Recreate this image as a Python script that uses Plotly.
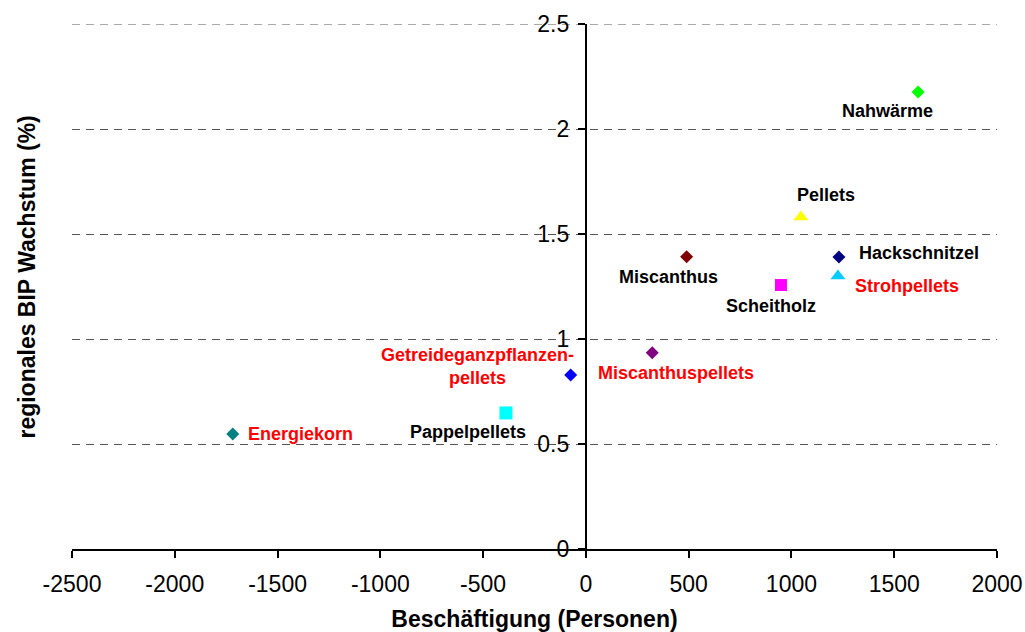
import plotly.graph_objects as go

# ---- data ----
names = ["Energiekorn", "Pappelpellets", "Getreideganzpflanzen-<br>pellets", "Miscanthuspellets",
         "Miscanthus", "Scheitholz", "Pellets", "Hackschnitzel", "Strohpellets", "Nahwärme"]
employment = [-1718, -389, -74, 323, 490, 949, 1046, 1231, 1226, 1616]
gdp_growth = [0.548, 0.648, 0.829, 0.935, 1.392, 1.257, 1.581, 1.390, 1.300, 2.176]
label_colors = ["red", "black", "red", "red", "black", "black", "black", "black", "red", "black"]
marker_colors = ["#008080", "#00FFFF", "#0000FF", "#800080", "#800000", "#FF00FF",
                 "#FFFF00", "#000080", "#00CCFF", "#00FF00"]
marker_symbols = ["diamond", "square", "diamond", "diamond", "diamond", "square",
                  "triangle-up", "diamond", "triangle-up", "diamond"]
marker_sizes = [10, 13, 10, 10, 10, 12, 13, 10, 13, 10]

x_range = [-2500, 2000]
y_range = [0, 2.5]
x_ticks = [-2500, -2000, -1500, -1000, -500, 0, 500, 1000, 1500, 2000]
y_ticks = [0, 0.5, 1, 1.5, 2, 2.5]
y_ticktext = ["0", "0.5", "1", "1.5", "2", "2.5"]

# label placement (pixel offsets relative to marker)
label_anchor = ["left", "center", "center", "left", "center", "center", "center", "left", "left", "center"]
label_dx = [13, -38, -93, -56, -18, -10, 25, 18, 15, -31]
label_dy = [0, -19, 8, -20, -20, -21, 22, 4, -10, -19]

FONT = "Liberation Sans, Arial, sans-serif"
GRID_COLOR = "#555555"
GRID_DASH = "8px,6px"

fig = go.Figure()
fig.add_trace(go.Scatter(
    x=employment, y=gdp_growth, mode="markers",
    marker=dict(color=marker_colors, symbol=marker_symbols, size=marker_sizes,
                opacity=1, line=dict(width=0)),
    hoverinfo="skip", showlegend=False, cliponaxis=False,
))

for i, n in enumerate(names):
    fig.add_annotation(
        x=employment[i], y=gdp_growth[i], xref="x", yref="y",
        text=n, showarrow=False, xanchor=label_anchor[i], yanchor="middle",
        xshift=label_dx[i], yshift=label_dy[i], align="center",
        font=dict(family=FONT, size=18, color=label_colors[i], weight="bold"),
    )

# y-axis title on the far left
fig.add_annotation(
    x=0, y=0.517, xref="paper", yref="paper", xshift=-45,
    text="regionales BIP Wachstum (%)", textangle=-90, showarrow=False,
    xanchor="center", yanchor="middle",
    font=dict(family=FONT, size=23, color="black", weight="bold"),
)

# top gridline (plotly omits the gridline at the plot edge)
fig.add_shape(type="line", xref="paper", yref="y", x0=0, x1=1,
              y0=y_ticks[-1], y1=y_ticks[-1], layer="below",
              line=dict(color=GRID_COLOR, width=1, dash=GRID_DASH))

y_axis_pos = (0 - x_range[0]) / (x_range[1] - x_range[0])

fig.update_layout(
    width=1025, height=632,
    margin=dict(l=72, r=28, t=24, b=83, autoexpand=False),
    paper_bgcolor="white", plot_bgcolor="white",
    font=dict(family=FONT, color="black"),
    xaxis=dict(
        range=x_range, tickvals=x_ticks, ticktext=[str(v) for v in x_ticks],
        showgrid=False, zeroline=False, showline=True, linecolor="black", linewidth=2,
        ticks="outside", ticklen=7, tickwidth=2, tickcolor="black",
        ticklabelstandoff=6, automargin=False,
        tickfont=dict(size=23, family=FONT, color="black"),
        title=dict(text="Beschäftigung (Personen)", standoff=20,
                   font=dict(size=23, family=FONT, color="black", weight="bold")),
        fixedrange=True,
    ),
    yaxis=dict(
        range=y_range, tickvals=y_ticks, ticktext=y_ticktext,
        anchor="free", position=y_axis_pos, automargin=False,
        showgrid=True, gridcolor=GRID_COLOR, gridwidth=1, griddash=GRID_DASH,
        zeroline=False, showline=True, linecolor="black", linewidth=2,
        ticks="outside", ticklen=7, tickwidth=2, tickcolor="black",
        ticklabelstandoff=4,
        tickfont=dict(size=23, family=FONT, color="black"),
        fixedrange=True,
    ),
)

fig.write_html("out.html")
